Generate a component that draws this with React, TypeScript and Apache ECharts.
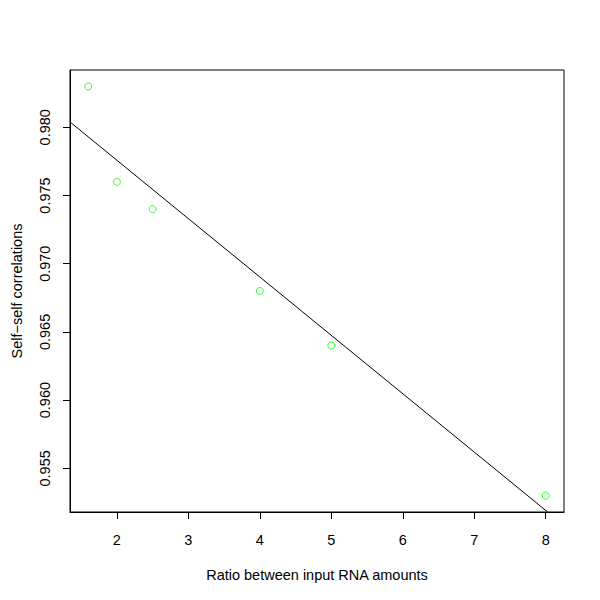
import React, { useEffect, useRef } from "react";
import * as echarts from "echarts";

const ratios = [1.6, 2, 2.5, 4, 5, 8];
const correlations = [0.983, 0.976, 0.974, 0.968, 0.964, 0.953];
const fitLine = [
  [1.344, 0.98039],
  [8.027, 0.9518],
];
const xTicks = [2, 3, 4, 5, 6, 7, 8];
const yTicks = [0.955, 0.96, 0.965, 0.97, 0.975, 0.98];
const xTitle = "Ratio between input RNA amounts";
const yTitle = "Self\u2212self correlations";

const FONT = "'Liberation Sans', Arial, Helvetica, sans-serif";
const FS = 14.5;

export default function App() {
  const ref = useRef<HTMLDivElement>(null);
  useEffect(() => {
    if (!ref.current) return;
    const chart = echarts.init(ref.current, undefined, { renderer: "svg" });
    chart.setOption({
      animation: false,
      backgroundColor: "#ffffff",
      grid: {
        left: 70,
        right: 36,
        top: 70,
        bottom: 88,
        show: true,
        borderColor: "#000",
        borderWidth: 1,
      },
      xAxis: {
        type: "value",
        min: 1.344,
        max: 8.256,
        name: xTitle,
        nameLocation: "middle",
        nameGap: 55,
        nameTextStyle: { fontFamily: FONT, fontSize: FS, color: "#000" },
        axisLine: { show: true, onZero: false, lineStyle: { color: "#000", width: 1 } },
        axisTick: {
          show: true,
          length: 7,
          customValues: xTicks,
          lineStyle: { color: "#000" },
        },
        axisLabel: {
          customValues: xTicks,
          margin: 20,
          fontFamily: FONT,
          fontSize: FS,
          color: "#000",
          formatter: (v: number) => String(v),
        },
        splitLine: { show: false },
      },
      yAxis: {
        type: "value",
        min: 0.9518,
        max: 0.9842,
        name: yTitle,
        nameLocation: "middle",
        nameRotate: 90,
        nameGap: 46,
        nameTextStyle: { fontFamily: FONT, fontSize: FS, color: "#000" },
        axisLine: { show: true, onZero: false, lineStyle: { color: "#000", width: 1 } },
        axisTick: {
          show: true,
          length: 7,
          customValues: yTicks,
          lineStyle: { color: "#000" },
        },
        axisLabel: {
          customValues: yTicks,
          rotate: 90,
          margin: 18,
          fontFamily: FONT,
          fontSize: FS,
          color: "#000",
          formatter: (v: number) => v.toFixed(3),
        },
        splitLine: { show: false },
      },
      series: [
        {
          type: "line",
          data: fitLine,
          symbol: "none",
          lineStyle: { color: "#000", width: 1 },
          silent: true,
        },
        {
          type: "scatter",
          data: ratios.map((x, i) => [x, correlations[i]]),
          symbol: "circle",
          symbolSize: 7,
          itemStyle: { color: "rgba(0,0,0,0)", borderColor: "#00ff00", borderWidth: 1 },
        },
      ],
    });
    return () => chart.dispose();
  }, []);
  return <div ref={ref} style={{ width: 600, height: 600, margin: -8 }} />;
}
